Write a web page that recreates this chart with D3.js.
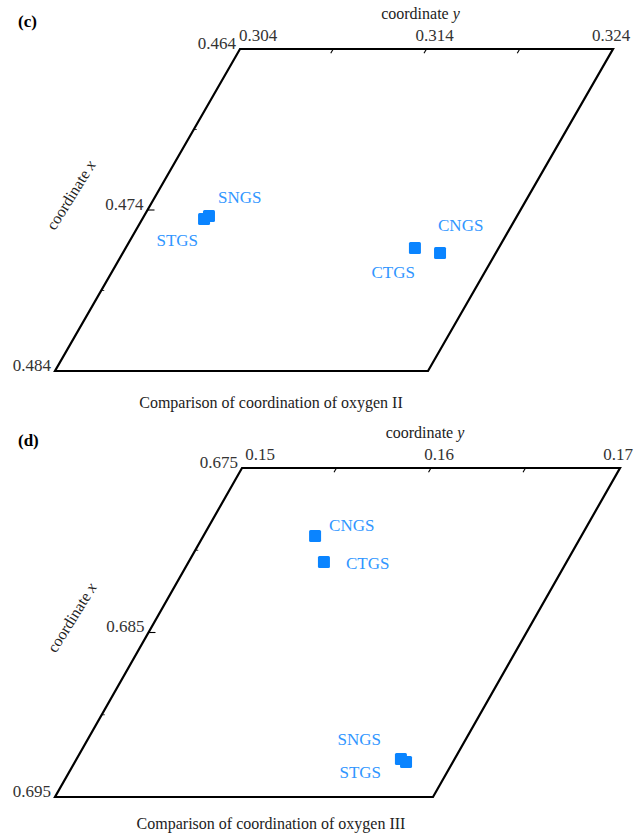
<!DOCTYPE html>
<html>
<head>
<meta charset="utf-8">
<script src="https://cdnjs.cloudflare.com/ajax/libs/d3/7.8.5/d3.min.js"></script>
<style>
  body { margin: 0; background: #fff; }
  svg text { font-family: "Liberation Serif", "Times New Roman", serif; }
</style>
</head>
<body>
<script>
var samples = ["SNGS", "STGS", "CNGS", "CTGS"];

// oxygen II
var o2CoordX = [0.47437, 0.47456, 0.47667, 0.47636];
var o2CoordY = [0.30748, 0.30731, 0.32101, 0.31951];
var o2TicksX = [0.464, 0.469, 0.474, 0.479, 0.484];
var o2TicksY = [0.304, 0.309, 0.314, 0.319, 0.324];
var o2LabelsX = ["0.464", "0.474", "0.484"];
var o2LabelsY = ["0.304", "0.314", "0.324"];

// oxygen III
var o3CoordX = [0.69269, 0.69287, 0.67913, 0.68071];
var o3CoordY = [0.16716, 0.16752, 0.15591, 0.15716];
var o3TicksX = [0.675, 0.680, 0.685, 0.690, 0.695];
var o3TicksY = [0.150, 0.155, 0.160, 0.165, 0.170];
var o3LabelsX = ["0.675", "0.685", "0.695"];
var o3LabelsY = ["0.15", "0.16", "0.17"];

var W = 637, H = 838;
var blue = "#0a84ff", labelBlue = "#3096ff";

var svg = d3.select("body").append("svg")
    .attr("width", W)
    .attr("height", H);

function drawPanel(cfg) {
  var g = svg.append("g");

  // fx: distance down the slanted side, fy: distance along the top edge
  var fx = d3.scaleLinear().domain(d3.extent(cfg.ticksX)).range([0, cfg.h]);
  var fy = d3.scaleLinear().domain(d3.extent(cfg.ticksY)).range([0, cfg.w]);
  var shear = cfg.skew / cfg.h;
  function pos(x, y) {
    var d = fx(x);
    return [cfg.ox + fy(y) - d * shear, cfg.oy + d];
  }

  var xd = fx.domain(), yd = fy.domain();
  var corners = [pos(xd[0], yd[0]), pos(xd[0], yd[1]), pos(xd[1], yd[1]), pos(xd[1], yd[0])];
  g.append("path")
      .attr("d", d3.line()(corners) + "Z")
      .attr("fill", "none")
      .attr("stroke", "#000")
      .attr("stroke-width", 2.2)
      .attr("stroke-linejoin", "miter");

  var labX = cfg.labelsX.map(Number), labY = cfg.labelsY.map(Number);
  function isMajor(arr, v) { return arr.some(function(a) { return Math.abs(a - v) < 1e-9; }); }

  // ticks on the top edge (parallel to the slanted side)
  var n = Math.sqrt(1 + shear * shear);
  g.selectAll(".ty").data(cfg.ticksY.slice(1, -1)).enter().append("line")
      .attr("x1", function(d) { return pos(xd[0], d)[0]; })
      .attr("y1", function(d) { return pos(xd[0], d)[1]; })
      .attr("x2", function(d) { return pos(xd[0], d)[0] - 5 * shear / n; })
      .attr("y2", function(d) { return pos(xd[0], d)[1] + 5 / n; })
      .attr("stroke", "#000").attr("stroke-width", 1.1);

  // ticks on the slanted side (horizontal)
  g.selectAll(".tx").data(cfg.ticksX.slice(1, -1)).enter().append("line")
      .attr("x1", function(d) { return pos(d, yd[0])[0]; })
      .attr("y1", function(d) { return pos(d, yd[0])[1]; })
      .attr("x2", function(d) { return pos(d, yd[0])[0] + (isMajor(labX, d) ? 7 : 3); })
      .attr("y2", function(d) { return pos(d, yd[0])[1]; })
      .attr("stroke", "#000")
      .attr("stroke-width", function(d) { return isMajor(labX, d) ? 1.1 : 0.8; });

  // tick labels
  g.selectAll(".ly").data(cfg.labelsY).enter().append("text")
      .attr("x", function(d, i) {
        var f = (labY[i] - yd[0]) / (yd[1] - yd[0]);
        return pos(xd[0], labY[i])[0] + 18 - 20 * f;
      })
      .attr("y", cfg.oy - 8)
      .attr("text-anchor", "middle")
      .attr("font-size", 17)
      .attr("fill", "#333")
      .text(function(d) { return d; });

  g.selectAll(".lx").data(cfg.labelsX).enter().append("text")
      .attr("x", function(d) { return pos(+d, yd[0])[0] - 4; })
      .attr("y", function(d) { return pos(+d, yd[0])[1] - 6; })
      .attr("dy", "0.35em")
      .attr("text-anchor", "end")
      .attr("font-size", 17)
      .attr("fill", "#333")
      .text(function(d) { return d; });

  // axis names
  var yName = g.append("text")
      .attr("x", pos(xd[0], (yd[0] + yd[1]) / 2)[0] - 6)
      .attr("y", cfg.oy - 30)
      .attr("text-anchor", "middle")
      .attr("font-size", 16)
      .attr("fill", "#222");
  yName.append("tspan").text("coordinate ");
  yName.append("tspan").attr("font-style", "italic").text("y");

  var mid = pos((xd[0] + xd[1]) / 2, yd[0]);
  var ax = mid[0] - 72, ay = mid[1] - 12;
  var xName = g.append("text")
      .attr("transform", "translate(" + ax + "," + ay + ") rotate(-58)")
      .attr("text-anchor", "middle")
      .attr("font-size", 16)
      .attr("fill", "#222");
  xName.append("tspan").text("coordinate ");
  xName.append("tspan").attr("font-style", "italic").text("x");

  // points
  var pts = samples.map(function(s, i) {
    var p = pos(cfg.coordX[i], cfg.coordY[i]);
    return { name: s, px: p[0], py: p[1], off: cfg.offsets[s] };
  });

  var sz = 12;
  g.selectAll(".pt").data(pts).enter().append("rect")
      .attr("x", function(d) { return d.px - sz / 2; })
      .attr("y", function(d) { return d.py - sz / 2; })
      .attr("width", sz).attr("height", sz)
      .attr("rx", 1.5)
      .attr("fill", blue);

  g.selectAll(".pl").data(pts).enter().append("text")
      .attr("x", function(d) { return d.px + d.off[0]; })
      .attr("y", function(d) { return d.py + d.off[1]; })
      .attr("dy", "0.35em")
      .attr("text-anchor", function(d) { return d.off[2]; })
      .attr("font-size", 17)
      .attr("fill", labelBlue)
      .text(function(d) { return d.name; });

  // caption + panel letter
  svg.append("text")
      .attr("x", cfg.titleX)
      .attr("y", cfg.titleY)
      .attr("text-anchor", "middle")
      .attr("font-size", 16)
      .attr("fill", "#222")
      .text(cfg.title);

  svg.append("text")
      .attr("x", 18)
      .attr("y", cfg.letterY)
      .attr("font-size", 17)
      .attr("font-weight", "bold")
      .attr("fill", "#000")
      .text(cfg.letter);
}

drawPanel({
  ox: 240, oy: 49, w: 373, h: 322, skew: 185,
  ticksX: o2TicksX, ticksY: o2TicksY, labelsX: o2LabelsX, labelsY: o2LabelsY,
  coordX: o2CoordX, coordY: o2CoordY,
  offsets: {
    SNGS: [9, -19, "start"], STGS: [-6, 21, "end"],
    CNGS: [-2, -28, "start"], CTGS: [0, 24, "end"]
  },
  title: "Comparison of coordination of oxygen II", titleX: 271, titleY: 408,
  letter: "(c)", letterY: 27
});

drawPanel({
  ox: 242, oy: 468, w: 378, h: 329, skew: 187,
  ticksX: o3TicksX, ticksY: o3TicksY, labelsX: o3LabelsX, labelsY: o3LabelsY,
  coordX: o3CoordX, coordY: o3CoordY,
  offsets: {
    SNGS: [-20, -20, "end"], STGS: [-25, 10, "end"],
    CNGS: [14, -11, "start"], CTGS: [22, 1, "start"]
  },
  title: "Comparison of coordination of oxygen III", titleX: 271, titleY: 829,
  letter: "(d)", letterY: 446
});
</script>
</body>
</html>
